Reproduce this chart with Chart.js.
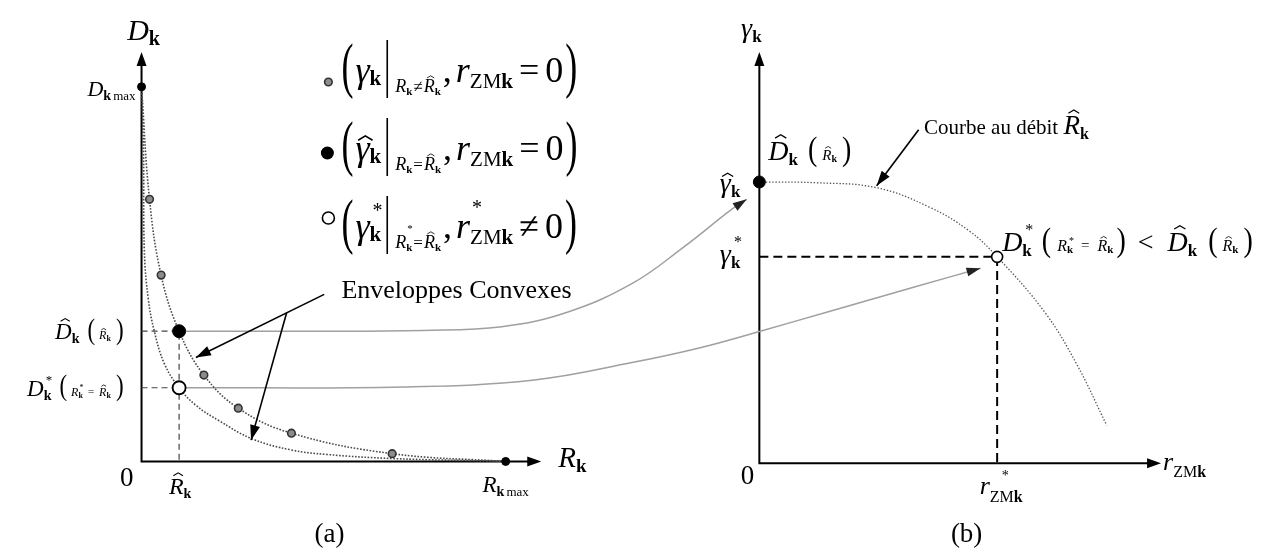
<!DOCTYPE html>
<html>
<head>
<meta charset="utf-8">
<script src="https://cdn.jsdelivr.net/npm/chart.js@4.4.1/dist/chart.umd.min.js"></script>
<style>
  html, body { margin: 0; padding: 0; background: #fff; }
  canvas { display: block; }
</style>
</head>
<body>
<canvas id="fig" width="1270" height="559"></canvas>
<script>
// panel (a): rate R_k against distortion D_k (normalised to the drawn axes)
const upperR = [0, 0.020, 0.049, 0.094, 0.156, 0.242, 0.375, 0.627, 0.911];
const upperD = [0.915, 0.640, 0.455, 0.318, 0.211, 0.130, 0.069, 0.019, 0];
const lowerR = [0, 0.005, 0.007, 0.017, 0.032, 0.057, 0.094, 0.136, 0.193, 0.277, 0.375, 0.464, 0.630, 0.911];
const lowerD = [0.915, 0.751, 0.514, 0.396, 0.318, 0.239, 0.180, 0.137, 0.100, 0.055, 0.028, 0.017, 0.007, 0];
const grayR = [0.020, 0.049, 0.156, 0.242, 0.375, 0.627];
const grayD = [0.640, 0.455, 0.211, 0.130, 0.069, 0.019];
const endR = [0, 0.911];
const endD = [0.915, 0];
const Rhat = 0.094, Dhat = 0.318, Dstar = 0.180;

// panel (b): r_ZMk against gamma_k
const rzm = [0, 0.145, 0.292, 0.423, 0.521, 0.592, 0.710, 0.789, 0.865];
const gam = [0.684, 0.682, 0.670, 0.623, 0.566, 0.502, 0.368, 0.243, 0.092];
const gHat = 0.684, rStar = 0.592, gStar = 0.502;

// gray transfer curves from (a) to (b), in panel (a) units
const link1R = [0.094, 0.407, 0.704, 0.901, 1.067, 1.230, 1.353, 1.477, 1.514];
const link1D = [0.318, 0.318, 0.320, 0.329, 0.365, 0.436, 0.521, 0.616, 0.640];
const link2R = [0.094, 0.654, 0.983, 1.230, 1.395, 1.548, 1.716, 1.938, 2.099];
const link2D = [0.180, 0.182, 0.199, 0.242, 0.277, 0.318, 0.365, 0.427, 0.472];

// page geometry: where the unit axes of each panel sit on the canvas
const W = 1270, H = 559;
const PA = { ox: 135, oy: 467, w: 405, h: 422 };
const PB = { ox: 761, oy: 469, w: 407, h: 424 };
const xr = p => ({ min: -p.ox / p.w, max: (W - p.ox) / p.w });
const yr = p => ({ min: -(H - p.oy) / p.h, max: p.oy / p.h });

const FAM = '"Liberation Serif", "Times New Roman", serif';
const I = (t, sz, dy = 0, o = {}) => Object.assign({ t, st: 'italic ', sz, dy }, o);
const B = (t, sz, dy = 0, o = {}) => Object.assign({ t, st: 'bold ', sz, dy }, o);
const N = (t, sz, dy = 0, o = {}) => Object.assign({ t, st: '', sz, dy }, o);
const P = (t, sz, sy, dy) => ({ t, st: '', sz, dy, sy });
const G = gap => ({ gap });
const BAR = (y0, y1) => ({ bar: true, y0, y1 });

function runWidth(ctx, r) {
  if (r.gap !== undefined) return r.gap;
  if (r.bar) return 2;
  if (r.nw) return 0;
  ctx.font = r.st + r.sz + 'px ' + FAM;
  return ctx.measureText(r.t).width;
}

function drawRuns(ctx, x, y, runs, align) {
  const ws = runs.map(r => runWidth(ctx, r));
  const total = ws.reduce((a, b) => a + b, 0);
  let cx = align === 'right' ? x - total : align === 'center' ? x - total / 2 : x;
  ctx.save();
  ctx.fillStyle = '#000';
  ctx.strokeStyle = '#000';
  ctx.textAlign = 'left';
  runs.forEach((r, i) => {
    if (r.bar) {
      ctx.lineWidth = 1.6;
      ctx.beginPath();
      ctx.moveTo(cx + 1, y + r.y0);
      ctx.lineTo(cx + 1, y + r.y1);
      ctx.stroke();
    } else if (r.t) {
      ctx.font = r.st + r.sz + 'px ' + FAM;
      const bx = cx + (r.dx || 0);
      if (r.sy) {
        ctx.save();
        ctx.textBaseline = 'middle';
        ctx.translate(bx, y + r.dy);
        ctx.scale(1, r.sy);
        ctx.fillText(r.t, 0, 0);
        ctx.restore();
      } else {
        ctx.textBaseline = 'alphabetic';
        ctx.fillText(r.t, bx, y + r.dy);
      }
      if (r.hat) {
        const w = ctx.measureText(r.t).width;
        const hx = bx + w / 2 + (r.st === 'italic ' ? r.sz * 0.08 : 0);
        const hy = y + r.dy - r.sz * r.hat;
        const hw = r.sz * 0.2, hh = r.sz * 0.12;
        ctx.lineWidth = Math.max(0.8, r.sz / 22);
        ctx.beginPath();
        ctx.moveTo(hx - hw, hy);
        ctx.lineTo(hx, hy - hh);
        ctx.lineTo(hx + hw, hy);
        ctx.stroke();
      }
    }
    cx += ws[i];
  });
  ctx.restore();
}

function arrowHead(ctx, x, y, dx, dy, len, wid, color) {
  const L = Math.hypot(dx, dy), ux = dx / L, uy = dy / L;
  ctx.beginPath();
  ctx.moveTo(x, y);
  ctx.lineTo(x - ux * len - uy * wid / 2, y - uy * len + ux * wid / 2);
  ctx.lineTo(x - ux * len + uy * wid / 2, y - uy * len - ux * wid / 2);
  ctx.closePath();
  ctx.fillStyle = color;
  ctx.fill();
}

function arrow(ctx, x0, y0, x1, y1) {
  ctx.save();
  ctx.strokeStyle = '#000';
  ctx.lineWidth = 1.6;
  ctx.beginPath();
  ctx.moveTo(x0, y0);
  ctx.lineTo(x1, y1);
  ctx.stroke();
  arrowHead(ctx, x1, y1, x1 - x0, y1 - y0, 15, 10, '#000');
  ctx.restore();
}

function dot(ctx, x, y, r, fill, stroke, lw) {
  ctx.beginPath();
  ctx.arc(x, y, r, 0, Math.PI * 2);
  ctx.fillStyle = fill;
  ctx.fill();
  if (lw) { ctx.lineWidth = lw; ctx.strokeStyle = stroke; ctx.stroke(); }
}

const xy = (xs, ys) => xs.map((x, i) => ({ x, y: ys[i] }));
const pointSet = (label, data, r, bg, border, bw, axes) => ({
  label, data, showLine: false, pointRadius: r, pointHoverRadius: r,
  pointBackgroundColor: bg, pointBorderColor: border, pointBorderWidth: bw,
  xAxisID: axes[0], yAxisID: axes[1]
});
const lineSet = (label, data, color, width, dash, axes, tension) => ({
  label, data, showLine: true, borderColor: color, borderWidth: width, borderDash: dash,
  pointRadius: 0, fill: false, tension, capBezierPoints: false,
  xAxisID: axes[0], yAxisID: axes[1]
});

const AX = ['xa', 'ya'], BX = ['xb', 'yb'];

const figurePlugin = {
  id: 'figure',
  beforeDatasetsDraw(chart) {
    const { ctx } = chart;
    const s = chart.scales;
    const panels = [
      [v => s.xa.getPixelForValue(v), v => s.ya.getPixelForValue(v)],
      [v => s.xb.getPixelForValue(v), v => s.yb.getPixelForValue(v)]
    ];
    ctx.save();
    ctx.strokeStyle = '#000';
    ctx.lineWidth = 2;
    panels.forEach(([fx, fy]) => {
      ctx.beginPath();
      ctx.moveTo(fx(0), fy(1) + 10);
      ctx.lineTo(fx(0), fy(0));
      ctx.lineTo(fx(1) - 10, fy(0));
      ctx.stroke();
      arrowHead(ctx, fx(0), fy(1), 0, -1, 14, 10, '#000');
      arrowHead(ctx, fx(1), fy(0), 1, 0, 14, 10, '#000');
    });
    ctx.restore();
  },
  afterDatasetsDraw(chart) {
    const { ctx } = chart;
    const s = chart.scales;
    const ax = v => s.xa.getPixelForValue(v), ay = v => s.ya.getPixelForValue(v);
    const bx = v => s.xb.getPixelForValue(v), by = v => s.yb.getPixelForValue(v);

    // arrowheads at the end of the gray transfer curves
    ['link1', 'link2'].forEach(name => {
      const idx = chart.data.datasets.findIndex(d => d.label === name);
      const pts = chart.getDatasetMeta(idx).data;
      const p = pts[pts.length - 1], q = pts[pts.length - 2];
      let dx = p.x - p.cp1x, dy = p.y - p.cp1y;
      if (!isFinite(dx) || Math.hypot(dx, dy) < 0.5) { dx = p.x - q.x; dy = p.y - q.y; }
      arrowHead(ctx, p.x, p.y, dx, dy, 14, 9, '#222');
    });

    // panel (a) labels
    drawRuns(ctx, ax(0) + 2, ay(1) - 12, [I('D', 30), B('k', 20, 5)], 'center');
    drawRuns(ctx, ax(0) - 6, ay(endD[0]) + 9, [I('D', 22), B('k', 14, 4), G(2), N('max', 13, 4)], 'right');
    drawRuns(ctx, ax(0) - 18, ay(Dhat) + 8, [
      I('D', 23, 0, { hat: 0.78 }), B('k', 14, 4), G(8), P('(', 23, 1.25, -8), G(4),
      I('R', 12, 0, { hat: 0.78 }), B('k', 8, 2), G(5), P(')', 23, 1.25, -8)
    ], 'right');
    drawRuns(ctx, ax(0) - 18, ay(Dstar) + 8, [
      I('D', 23), N('*', 13, -12, { nw: 1, dx: 2 }), B('k', 14, 4), G(8), P('(', 23, 1.25, -8), G(4),
      I('R', 12), N('*', 8, -6, { nw: 1, dx: 1 }), B('k', 8, 2), G(5), N('=', 11, -1), G(5),
      I('R', 12, 0, { hat: 0.78 }), B('k', 8, 2), G(5), P(')', 23, 1.25, -8)
    ], 'right');
    drawRuns(ctx, ax(0) - 8, ay(0) + 25, [N('0', 27)], 'right');
    drawRuns(ctx, ax(Rhat) + 1, ay(0) + 33, [I('R', 24, 0, { hat: 0.78 }), B('k', 14, 4)], 'center');
    drawRuns(ctx, ax(endR[1]), ay(0) + 31, [I('R', 23), B('k', 14, 4), G(2), N('max', 13, 4)], 'center');
    drawRuns(ctx, ax(1) + 17, ay(0) + 6, [I('R', 29), B('k', 19, 5)], 'left');
    drawRuns(ctx, ax(0.47), ay(0) + 81, [N('(a)', 27)], 'center');

    // envelope annotation
    drawRuns(ctx, ax(0.5), ay(0.4), [N('Enveloppes Convexes', 26)], 'left');
    const tail = [ax(0.457), ay(0.408)], joint = [ax(0.363), ay(0.363)];
    arrow(ctx, tail[0], tail[1], ax(0.136), ay(0.254));
    arrow(ctx, joint[0], joint[1], ax(0.274), ay(0.052));

    // panel (b) labels
    drawRuns(ctx, bx(0) - 8, by(1) - 15, [I('γ', 28), B('k', 17, 5)], 'center');
    drawRuns(ctx, bx(0) - 19, by(gHat) + 10, [I('γ', 28, 0, { hat: 0.55 }), B('k', 17, 5)], 'right');
    drawRuns(ctx, bx(0) - 19, by(gStar) + 6, [I('γ', 28), N('*', 16, -16, { nw: 1, dx: 3 }), B('k', 17, 5)], 'right');
    drawRuns(ctx, bx(0) + 9, by(gHat) - 22, [
      I('D', 28, 0, { hat: 0.78 }), B('k', 17, 5), G(10), P('(', 28, 1.2, -9), G(5),
      I('R', 15, 0, { hat: 0.78 }), B('k', 10, 2), G(5), P(')', 28, 1.2, -9)
    ], 'left');
    drawRuns(ctx, bx(0.41), by(0.8), [N('Courbe au débit ', 21), I('R', 27, 0, { hat: 0.78 }), B('k', 16, 5)], 'left');
    arrow(ctx, bx(rzm[2]) + 42, by(gam[2]) - 58, bx(rzm[2]), by(gam[2]) - 2);
    drawRuns(ctx, bx(rStar) + 5, by(gStar) - 6, [
      I('D', 28), N('*', 16, -16, { nw: 1, dx: 3 }), B('k', 17, 5), G(10), P('(', 28, 1.2, -9), G(6),
      I('R', 16), N('*', 10, -7, { nw: 1, dx: 2 }), B('k', 11, 2), G(8), N('=', 15, -1), G(8),
      I('R', 16, 0, { hat: 0.78 }), B('k', 11, 2), G(3), P(')', 28, 1.2, -9), G(12),
      N('<', 28), G(14), I('D', 28, 0, { hat: 0.78 }), B('k', 17, 5), G(11), P('(', 28, 1.2, -9), G(5),
      I('R', 16, 0, { hat: 0.78 }), B('k', 11, 2), G(5), P(')', 28, 1.2, -9)
    ], 'left');
    drawRuns(ctx, bx(0) - 5, by(0) + 21, [N('0', 27)], 'right');
    drawRuns(ctx, bx(rStar) + 4, by(0) + 31, [I('r', 26), N('*', 14, -14, { nw: 1, dx: 12 }), N('ZM', 16, 8), B('k', 16, 8)], 'center');
    drawRuns(ctx, bx(1) + 2, by(0) + 7, [I('r', 26), N('ZM', 16, 7), B('k', 16, 7)], 'left');
    drawRuns(ctx, bx(0.516), by(0) + 79, [N('(b)', 27)], 'center');

    // legend of the three kinds of points
    const lx = ax(0.5), rows = [82, 160, 238], marks = [82, 153, 218];
    dot(ctx, lx - 13, marks[0], 3.8, '#8c8c8c', '#333', 1.6);
    dot(ctx, lx - 14, marks[1], 6.5, '#000');
    dot(ctx, lx - 13, marks[2], 6, '#fff', '#000', 1.6);
    const open = P('(', 36, 1.7, -12), close = P(')', 36, 1.7, -12);
    drawRuns(ctx, lx, rows[0], [
      open, G(2), I('γ', 36), B('k', 21, 3), G(5), BAR(-42, 16), G(7),
      I('R', 18, 10), B('k', 11, 13), G(1), N('≠', 17, 10), G(1), I('R', 18, 10, { hat: 0.78 }), B('k', 11, 13), G(2),
      N(',', 36), G(4), I('r', 36), N('ZM', 21, 6), B('k', 21, 6), G(6), N('=', 36), G(6), N('0', 36), G(2), close
    ], 'left');
    drawRuns(ctx, lx, rows[1], [
      open, G(2), I('γ', 36, 0, { hat: 0.55 }), B('k', 21, 3), G(5), BAR(-42, 16), G(7),
      I('R', 18, 10), B('k', 11, 13), G(1), N('=', 17, 10), G(1), I('R', 18, 10, { hat: 0.78 }), B('k', 11, 13), G(2),
      N(',', 36), G(4), I('r', 36), N('ZM', 21, 6), B('k', 21, 6), G(6), N('=', 36), G(6), N('0', 36), G(2), close
    ], 'left');
    drawRuns(ctx, lx, rows[2], [
      open, G(2), I('γ', 36), N('*', 20, -21, { nw: 1, dx: 3 }), B('k', 21, 3), G(5), BAR(-42, 16), G(7),
      I('R', 18, 10), N('*', 11, -6, { nw: 1, dx: 1 }), B('k', 11, 13), G(1), N('=', 17, 10), G(1),
      I('R', 18, 10, { hat: 0.78 }), B('k', 11, 13), G(2),
      N(',', 36), G(4), I('r', 36), N('*', 20, -24, { nw: 1, dx: 2 }), N('ZM', 21, 6), B('k', 21, 6), G(6),
      N('≠', 36), G(6), N('0', 36), G(2), close
    ], 'left');
  }
};

new Chart(document.getElementById('fig'), {
  type: 'line',
  data: {
    datasets: [
      pointSet('chosen', [{ x: Rhat, y: Dhat }], 6.5, '#000', '#000', 1, AX),
      pointSet('optimal', [{ x: Rhat, y: Dstar }], 6.5, '#fff', '#000', 1.8, AX),
      pointSet('other rates', xy(grayR, grayD), 3.8, '#8c8c8c', '#333', 1.6, AX),
      pointSet('extremes', xy(endR, endD), 4, '#000', '#000', 1, AX),
      pointSet('gamma hat', [{ x: 0, y: gHat }], 6, '#000', '#000', 1, BX),
      pointSet('gamma star', [{ x: rStar, y: gStar }], 5.5, '#fff', '#000', 1.6, BX),
      lineSet('upper envelope', xy(upperR, upperD), '#4a4a4a', 1.6, [1.6, 1.6], AX, 0.4),
      lineSet('lower envelope', xy(lowerR, lowerD), '#4a4a4a', 1.6, [1.6, 1.6], AX, 0.4),
      lineSet('curve at R hat', xy(rzm, gam), '#555', 1.3, [1.4, 1.8], BX, 0.4),
      lineSet('link1', xy(link1R, link1D), '#a0a0a0', 1.5, [], AX, 0.4),
      lineSet('link2', xy(link2R, link2D), '#a0a0a0', 1.5, [], AX, 0.4),
      lineSet('guide a1', [{ x: 0, y: Dhat }, { x: Rhat, y: Dhat }, { x: Rhat, y: 0 }], '#444', 1.2, [6, 4], AX, 0),
      lineSet('guide a2', [{ x: 0, y: Dstar }, { x: Rhat, y: Dstar }], '#444', 1.2, [6, 4], AX, 0),
      lineSet('guide b', [{ x: 0, y: gStar }, { x: rStar, y: gStar }, { x: rStar, y: 0 }], '#000', 2, [9, 5], BX, 0)
    ]
  },
  options: {
    responsive: false,
    animation: false,
    devicePixelRatio: 1,
    events: [],
    layout: { padding: 0 },
    plugins: { legend: { display: false }, tooltip: { enabled: false } },
    scales: {
      xa: Object.assign({ type: 'linear', display: false }, xr(PA)),
      ya: Object.assign({ type: 'linear', display: false }, yr(PA)),
      xb: Object.assign({ type: 'linear', display: false }, xr(PB)),
      yb: Object.assign({ type: 'linear', display: false }, yr(PB))
    }
  },
  plugins: [figurePlugin]
});
</script>
</body>
</html>
